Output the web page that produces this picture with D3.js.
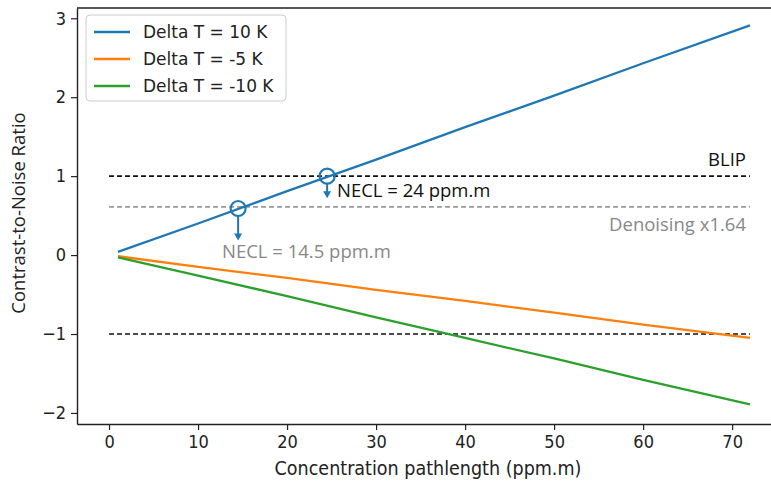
<!DOCTYPE html>
<html>
<head>
<meta charset="utf-8">
<script src="https://cdn.jsdelivr.net/npm/d3@7"></script>
<style>
  body { margin: 0; background: #fff; }
  svg { display: block; }
  .tick text { font-family: "DejaVu Sans Condensed", "DejaVu Sans", sans-serif; font-size: 18px; fill: #222; }
</style>
</head>
<body>
<script>
// data
var xs       = [1, 10, 20, 30, 40, 50, 60, 72];
var dT10     = [0.04, 0.40, 0.81, 1.21, 1.62, 2.02, 2.43, 2.91];
var dTm5     = [-0.015, -0.15, -0.29, -0.44, -0.58, -0.73, -0.88, -1.05];
var dTm10    = [-0.03, -0.26, -0.52, -0.79, -1.05, -1.31, -1.58, -1.89];
var seriesNames = ["Delta T = 10 K", "Delta T = -5 K", "Delta T = -10 K"];
var colors   = ["#1f77b4", "#ff7f0e", "#2ca02c"];
var xTicks   = [0, 10, 20, 30, 40, 50, 60, 70];
var yTicks   = [-2, -1, 0, 1, 2, 3];
var blipLevels = [1, -1];
var denoiseLevel = 0.61;
var necl = [{x: 14.5, y: 0.59, label: "NECL = 14.5 ppm.m"}, {x: 24.5, y: 1.0, label: "NECL = 24 ppm.m"}];

var W = 771, H = 484;
var margin = {top: 8, left: 77, bottom: 60};

var x = d3.scaleLinear().domain([-3.6, 75.6]).range([margin.left, 782]);
var y = d3.scaleLinear().domain([-2.14, 3.13]).range([H - margin.bottom, margin.top]);

var svg = d3.select("body").append("svg")
    .attr("width", W)
    .attr("height", H);

// reference lines
blipLevels.forEach(function(v) {
  svg.append("line")
      .attr("x1", x(0)).attr("x2", x(72))
      .attr("y1", y(v)).attr("y2", y(v))
      .attr("stroke", "#111").attr("stroke-width", 1.6)
      .attr("stroke-dasharray", "5,3");
});
svg.append("line")
    .attr("x1", x(0)).attr("x2", x(72))
    .attr("y1", y(denoiseLevel)).attr("y2", y(denoiseLevel))
    .attr("stroke", "#999").attr("stroke-width", 1.6)
    .attr("stroke-dasharray", "5,3");

// series
var line = d3.line()
    .x(function(d, i) { return x(xs[i]); })
    .y(function(d) { return y(d); });

[dT10, dTm5, dTm10].forEach(function(s, i) {
  svg.append("path")
      .datum(s)
      .attr("fill", "none")
      .attr("stroke", colors[i])
      .attr("stroke-width", 2.3)
      .attr("d", line);
});

// axes
svg.append("g")
    .attr("transform", "translate(0," + (H - margin.bottom) + ")")
    .call(d3.axisBottom(x).tickValues(xTicks).tickSizeOuter(0).tickPadding(5));
svg.append("g")
    .attr("transform", "translate(" + margin.left + ",0)")
    .call(d3.axisLeft(y).tickValues(yTicks).tickSizeOuter(0).tickPadding(5)
      .tickFormat(function(d) { return d < 0 ? "\u2212" + Math.abs(d) : d; }));
svg.selectAll(".domain").attr("stroke", "#222").attr("stroke-width", 1.4);
svg.selectAll(".tick line").attr("stroke", "#222").attr("stroke-width", 1.2);
// top spine
svg.append("line")
    .attr("x1", margin.left).attr("x2", W)
    .attr("y1", margin.top).attr("y2", margin.top)
    .attr("stroke", "#222").attr("stroke-width", 1.4);

// axis titles
svg.append("text")
    .attr("x", 428).attr("y", 475)
    .attr("text-anchor", "middle")
    .style("font-family", "'DejaVu Sans Condensed', 'DejaVu Sans', sans-serif")
    .style("font-size", "19.5px").attr("fill", "#222")
    .text("Concentration pathlength (ppm.m)");
svg.append("text")
    .attr("transform", "translate(25,213) rotate(-90)")
    .attr("text-anchor", "middle")
    .style("font-family", "'Open Sans', sans-serif")
    .style("font-size", "18.5px").attr("fill", "#222")
    .text("Contrast-to-Noise Ratio");

// NECL markers
necl.forEach(function(d) {
  var cx = x(d.x), cy = y(d.y);
  svg.append("circle")
      .attr("cx", cx).attr("cy", cy).attr("r", 7.5)
      .attr("fill", "none").attr("stroke", "#1f77b4").attr("stroke-width", 2.2);
});
var arrowLen = [24, 14];
necl.forEach(function(d, i) {
  var cx = x(d.x), cy = y(d.y) + 8;
  var yEnd = cy + arrowLen[i];
  svg.append("line")
      .attr("x1", cx).attr("x2", cx).attr("y1", cy).attr("y2", yEnd - 6)
      .attr("stroke", "#1f77b4").attr("stroke-width", 2);
  svg.append("path")
      .attr("d", "M" + (cx - 4) + "," + (yEnd - 7) + "L" + (cx + 4) + "," + (yEnd - 7) + "L" + cx + "," + yEnd + "Z")
      .attr("fill", "#1f77b4");
});

var annoFont = "'Open Sans', sans-serif";
svg.append("text")
    .attr("x", 337).attr("y", 197)
    .style("font-family", annoFont).style("font-size", "18.5px").attr("fill", "#111")
    .text(necl[1].label);
svg.append("text")
    .attr("x", 222).attr("y", 258)
    .style("font-family", annoFont).style("font-size", "18.5px").attr("fill", "#888")
    .text(necl[0].label);
svg.append("text")
    .attr("x", 746).attr("y", 166).attr("text-anchor", "end")
    .style("font-family", annoFont).style("font-size", "18.5px").attr("fill", "#111")
    .text("BLIP");
svg.append("text")
    .attr("x", 746).attr("y", 231).attr("text-anchor", "end")
    .style("font-family", annoFont).style("font-size", "18.5px").attr("fill", "#888")
    .text("Denoising x1.64");

// legend
var lg = svg.append("g").attr("transform", "translate(86,15)");
lg.append("rect")
    .attr("width", 200).attr("height", 86).attr("rx", 4)
    .attr("fill", "#fff").attr("fill-opacity", 0.8)
    .attr("stroke", "#ccc").attr("stroke-width", 1);
seriesNames.forEach(function(name, i) {
  var yy = 17 + i * 27;
  lg.append("line")
      .attr("x1", 8).attr("x2", 44).attr("y1", yy).attr("y2", yy)
      .attr("stroke", colors[i]).attr("stroke-width", 2.3);
  lg.append("text")
      .attr("x", 57).attr("y", yy + 6)
      .style("font-family", "'DejaVu Sans', sans-serif").style("font-size", "17px")
      .attr("fill", "#222")
      .text(name);
});
</script>
</body>
</html>
